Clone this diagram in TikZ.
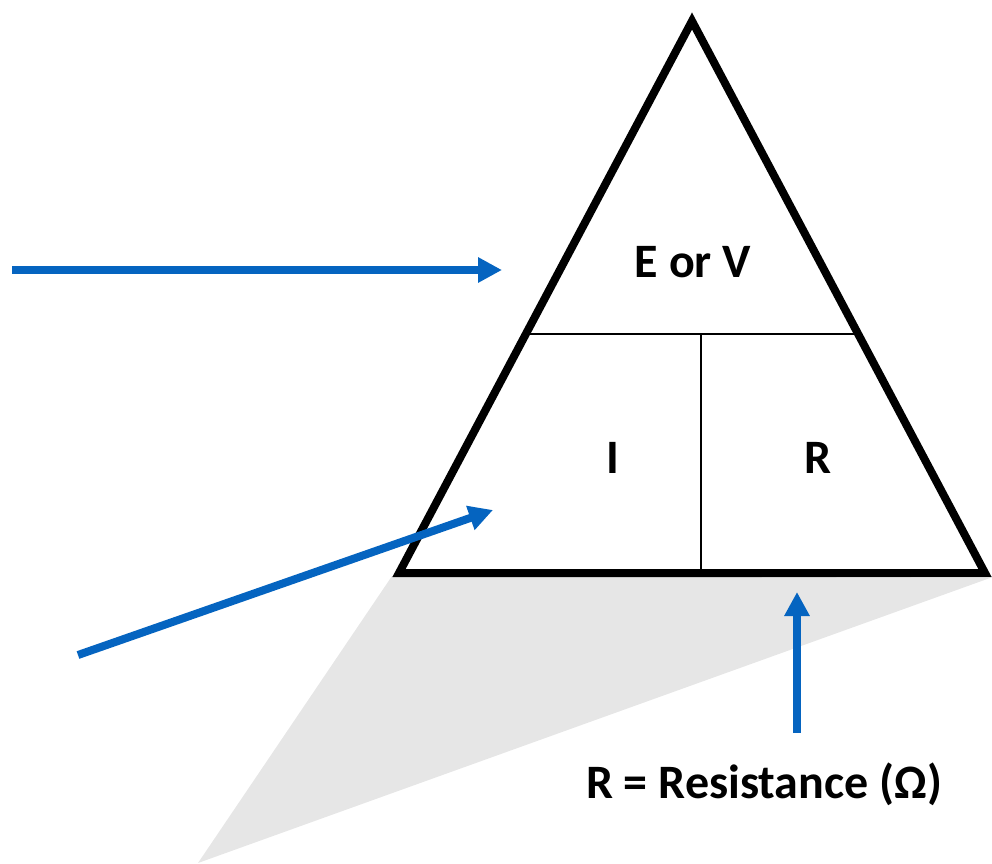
\documentclass[tikz,border=0pt]{standalone}
\usepackage{fontspec}
\setmainfont{Carlito}
\usepackage{tikz}
\usetikzlibrary{arrows.meta, positioning}
\usepackage{xcolor}
\definecolor{ohmblue}{RGB}{5, 100, 192}
\definecolor{shadowgray}{RGB}{230, 230, 230}

\begin{document}
\begin{tikzpicture}[
  x=1pt, y=-1pt,
  label/.style={font=\fontsize{48}{52}\selectfont\bfseries, inner sep=0pt, anchor=base},
  pointer/.style={ohmblue, line width=8pt, -{Triangle[length=24pt, width=24pt]}},
]
  \useasboundingbox (0,0) rectangle (992,863);

  % shadow and triangle
  \fill[shadowgray] (392,576) -- (990,578) -- (198,863) -- cycle;
  \draw[line width=8pt, fill=white] (692,21) coordinate (top) -- (399,573) coordinate (left) -- (985,573) coordinate (right) -- cycle;
  \draw[line width=1.6pt] (526,334) -- (858,334);
  \draw[line width=1.6pt] (701,334) -- (701,573);

  \node[label] (volt) at (693,277) {E or V};
  \node[label] (amp) at (613,473) {I};
  \node[label] (res) at (818,473) {R};
  \node[label] (resdef) at (764,798) {R = Resistance (Ω)};

  % arrows
  \coordinate (tailA) at (12,270);
  \coordinate (tipA) at (502,270);
  \coordinate (tailB) at (78,655);
  \coordinate (tipB) at (493,510);
  \coordinate (tailC) at (797,733);
  \coordinate (tipC) at (797,592);
  \draw[pointer] (tailA) -- (tipA);
  \draw[pointer] (tailB) -- (tipB);
  \draw[pointer] (tailC) -- (tipC);
\end{tikzpicture}
\end{document}
